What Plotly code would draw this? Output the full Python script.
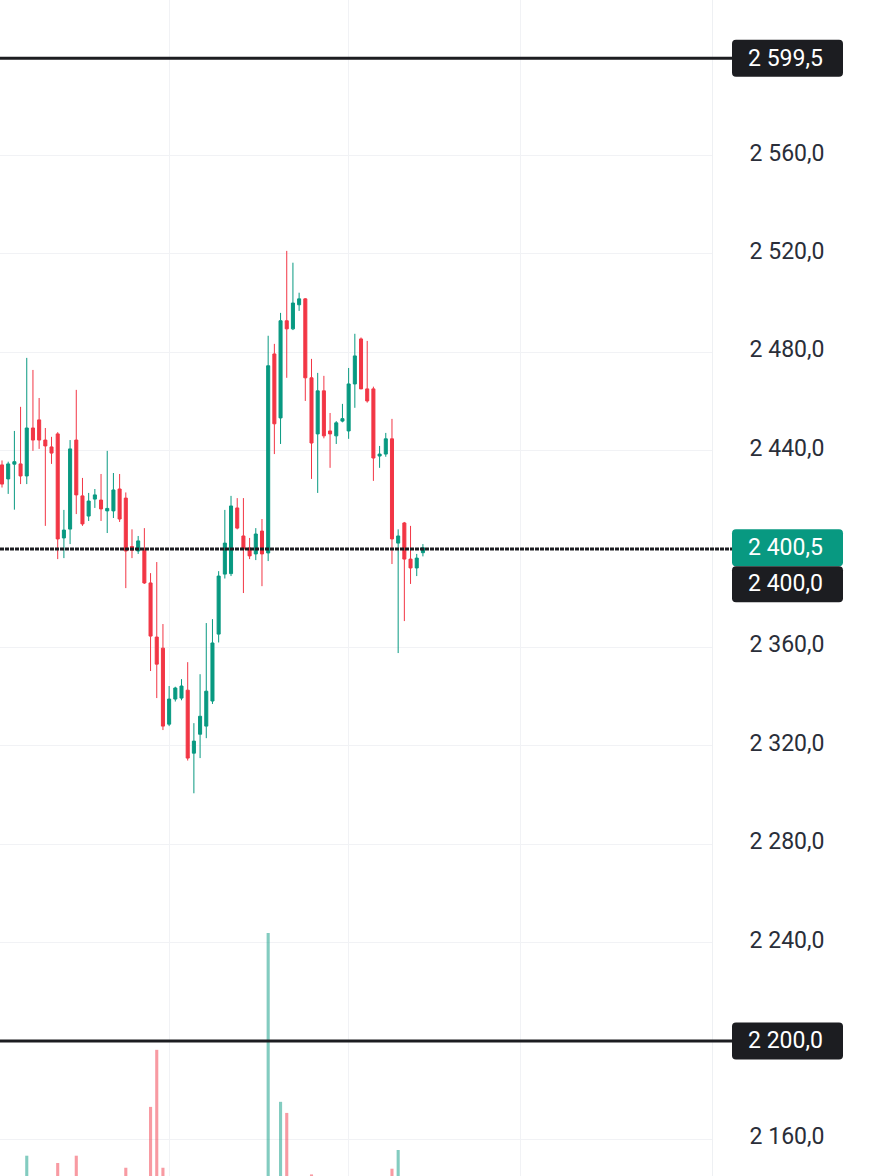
import plotly.graph_objects as go

# ---------------- data ----------------
idx = list(range(69))
opens = [2434.2, 2428.5, 2434.5, 2434.6, 2429.7, 2449.2, 2452.5, 2444.3, 2441.5, 2446.8,
         2404.5, 2408.1, 2444.3, 2421.6, 2413.4, 2420.3, 2419.9, 2415.5, 2415.5, 2424.4,
         2420.7, 2401.0, 2399.2, 2399.5, 2386.2, 2364.2, 2359.7, 2328.8, 2339.0, 2339.4,
         2342.6, 2317.0, 2324.7, 2328.0, 2338.2, 2365.4, 2389.8, 2390.0, 2416.7, 2405.3,
         2400.4, 2398.0, 2407.3, 2398.4, 2479.3, 2453.3, 2492.8, 2489.5, 2499.3, 2501.7,
         2469.6, 2446.8, 2464.3, 2448.0, 2446.0, 2452.0, 2448.0, 2467.1, 2485.4, 2465.1,
         2465.1, 2437.8, 2438.6, 2444.8, 2402.4, 2410.6, 2395.9, 2392.3, 2398.5]
highs = [2436.0, 2435.5, 2448.0, 2457.8, 2477.7, 2472.8, 2461.4, 2449.2, 2445.6, 2447.5,
         2415.9, 2444.3, 2464.7, 2428.9, 2422.8, 2424.4, 2430.5, 2439.9, 2430.9, 2430.5,
         2423.0, 2408.0, 2405.3, 2408.5, 2390.2, 2394.7, 2369.5, 2344.3, 2344.0, 2347.1,
         2354.0, 2329.2, 2349.1, 2369.9, 2371.5, 2391.0, 2415.9, 2421.6, 2420.7, 2420.7,
         2404.5, 2408.5, 2412.2, 2486.7, 2483.4, 2496.0, 2521.2, 2516.4, 2504.2, 2502.0,
         2477.3, 2471.6, 2470.4, 2455.3, 2452.0, 2459.0, 2473.6, 2487.5, 2486.0, 2484.6,
         2466.0, 2441.9, 2447.2, 2452.9, 2408.0, 2411.0, 2409.4, 2398.0, 2402.0]
lows = [2425.0, 2422.4, 2416.0, 2426.4, 2426.4, 2439.9, 2440.7, 2409.4, 2434.6, 2395.9,
        2396.3, 2402.0, 2414.2, 2409.4, 2411.4, 2416.7, 2411.4, 2406.5, 2412.6, 2411.0,
        2384.1, 2396.3, 2398.0, 2385.8, 2350.4, 2339.4, 2326.4, 2328.0, 2338.0, 2338.5,
        2314.0, 2300.7, 2315.0, 2323.1, 2337.0, 2362.0, 2388.0, 2389.0, 2408.0, 2382.1,
        2395.9, 2395.5, 2384.9, 2395.1, 2438.6, 2442.7, 2469.6, 2489.0, 2496.8, 2460.2,
        2428.5, 2422.8, 2445.0, 2433.0, 2442.7, 2451.5, 2444.8, 2457.4, 2465.0, 2459.5,
        2427.7, 2433.0, 2437.5, 2393.9, 2357.7, 2370.7, 2385.8, 2389.0, 2397.0]
closes = [2426.4, 2434.6, 2435.5, 2429.7, 2449.2, 2444.3, 2444.3, 2441.9, 2439.0, 2404.1,
          2407.7, 2440.7, 2422.0, 2410.2, 2419.5, 2422.0, 2416.3, 2416.5, 2424.0, 2412.2,
          2399.2, 2399.5, 2403.3, 2386.2, 2364.6, 2353.2, 2328.0, 2339.0, 2343.5, 2344.3,
          2315.0, 2321.9, 2332.0, 2342.2, 2361.8, 2389.0, 2402.4, 2417.5, 2408.5, 2400.0,
          2397.2, 2406.1, 2398.0, 2474.5, 2450.9, 2492.8, 2489.5, 2500.0, 2501.7, 2469.6,
          2443.1, 2464.3, 2446.0, 2446.8, 2451.3, 2453.0, 2467.1, 2478.5, 2465.1, 2460.2,
          2437.0, 2438.6, 2444.8, 2404.1, 2405.3, 2395.9, 2392.3, 2396.3, 2400.5]
volumes = [14, 12, 16, 18, 29.7, 15, 17, 20, 11, 27.4,
           13, 19, 29.7, 16, 10, 9, 12, 17, 14, 15,
           25.9, 11, 9, 18, 45.1, 63.1, 25.9, 20, 10, 9,
           22, 21, 17, 19, 18, 20, 16, 19, 12, 18,
           9, 11, 20, 100.0, 22, 46.7, 43.2, 21, 12, 22,
           23.8, 18, 15, 11, 12, 9, 16, 21, 19, 14,
           20, 10, 12, 25.6, 31.5, 22, 17, 12, 8]

price_ticks = [2160, 2240, 2280, 2320, 2360, 2440, 2480, 2520, 2560]
price_tick_text = ["2 160,0", "2 240,0", "2 280,0", "2 320,0", "2 360,0",
                   "2 440,0", "2 480,0", "2 520,0", "2 560,0"]
time_grid = [27.1, 55.9, 83.7]

level_lines = [2599.5, 2200.0]
level_labels = ["2 599,5", "2 200,0"]
dashed_level = 2400.0
dashed_label = "2 400,0"
last_price = 2400.5
last_label = "2 400,5"

# ---------------- style ----------------
GREEN = "#089981"
RED = "#F23645"
DARK = "#1c1d21"
FONT = "Roboto"
W, H = 870, 1176
PLOT_RIGHT = 712

fig = go.Figure()

vol_colors = ["rgba(8,153,129,0.5)" if c >= o else "rgba(242,54,69,0.5)"
              for o, c in zip(opens, closes)]
fig.add_trace(go.Bar(x=idx, y=volumes, yaxis="y2", marker=dict(color=vol_colors, line=dict(width=0)),
                     width=0.5, hoverinfo="skip"))

fig.add_trace(go.Candlestick(
    x=idx, open=opens, high=highs, low=lows, close=closes,
    increasing=dict(line=dict(color=GREEN, width=1), fillcolor=GREEN),
    decreasing=dict(line=dict(color=RED, width=1), fillcolor=RED),
    whiskerwidth=0,
))


def rrect(x0, x1, y0, y1, r=4):
    return (f"M {x0+r},{y0} L {x1-r},{y0} Q {x1},{y0} {x1},{y0+r} "
            f"L {x1},{y1-r} Q {x1},{y1} {x1-r},{y1} L {x0+r},{y1} "
            f"Q {x0},{y1} {x0},{y1-r} L {x0},{y0+r} Q {x0},{y0} {x0+r},{y0} Z")


shapes = []
annotations = []
BOX_X0, BOX_X1, BOX_H = 732, 843, 37
line_end = BOX_X0 / W

for lv, lab in zip(level_lines, level_labels):
    shapes.append(dict(type="line", xref="paper", yref="y", x0=0, x1=line_end, y0=lv, y1=lv,
                       line=dict(color=DARK, width=3), layer="above"))
    shapes.append(dict(type="path", xref="paper", yref="y", xsizemode="pixel", ysizemode="pixel",
                       xanchor=0, yanchor=lv, path=rrect(BOX_X0, BOX_X1, -BOX_H / 2, BOX_H / 2),
                       fillcolor=DARK, line=dict(width=0), layer="above"))
    annotations.append(dict(x=746 / W, xref="paper", xanchor="left", y=lv, yref="y",
                            text=lab, showarrow=False, font=dict(family=FONT, size=23, color="white")))

shapes.append(dict(type="line", xref="paper", yref="y", x0=0, x1=line_end, y0=dashed_level, y1=dashed_level,
                   line=dict(color=DARK, width=3, dash="4px,1px"), layer="above"))
# last price box (teal) and stacked level box below it
shapes.append(dict(type="path", xref="paper", yref="y", xsizemode="pixel", ysizemode="pixel",
                   xanchor=0, yanchor=last_price, path=rrect(BOX_X0, BOX_X1, -BOX_H / 2, BOX_H / 2),
                   fillcolor=GREEN, line=dict(width=0), layer="above"))
shapes.append(dict(type="path", xref="paper", yref="y", xsizemode="pixel", ysizemode="pixel",
                   xanchor=0, yanchor=last_price, path=rrect(BOX_X0, BOX_X1, -BOX_H / 2 - 36, -BOX_H / 2),
                   fillcolor=DARK, line=dict(width=0), layer="above"))
annotations.append(dict(x=746 / W, xref="paper", xanchor="left", y=last_price, yref="y",
                        text=last_label, showarrow=False, font=dict(family=FONT, size=23, color="white")))
annotations.append(dict(x=746 / W, xref="paper", xanchor="left", y=last_price, yref="y", yshift=-36,
                        text=dashed_label, showarrow=False, font=dict(family=FONT, size=23, color="white")))

fig.update_layout(
    width=W, height=H, margin=dict(l=0, r=0, t=0, b=0),
    paper_bgcolor="white", plot_bgcolor="white", showlegend=False,
    font=dict(family=FONT),
    shapes=shapes, annotations=annotations,
    xaxis=dict(domain=[0, PLOT_RIGHT / W], range=[-0.323, 114.7], rangeslider=dict(visible=False),
               showticklabels=False, tickvals=time_grid, showgrid=True, gridcolor="#f1f2f5",
               zeroline=False, showline=False, ticks=""),
    yaxis=dict(side="right", range=[2145.1, 2623.2], tickvals=price_ticks, ticktext=price_tick_text,
               tickfont=dict(family=FONT, size=23, color="#2a2e39"), ticks="",
               ticklabelstandoff=32, ticklabelshift=-3, showgrid=True, gridcolor="#f1f2f5",
               zeroline=False, showline=True, linecolor="#eef0f3", linewidth=1),
    yaxis2=dict(overlaying="y", range=[23.3, 394.3], visible=False, showgrid=False),
)

fig.write_html("out.html")
